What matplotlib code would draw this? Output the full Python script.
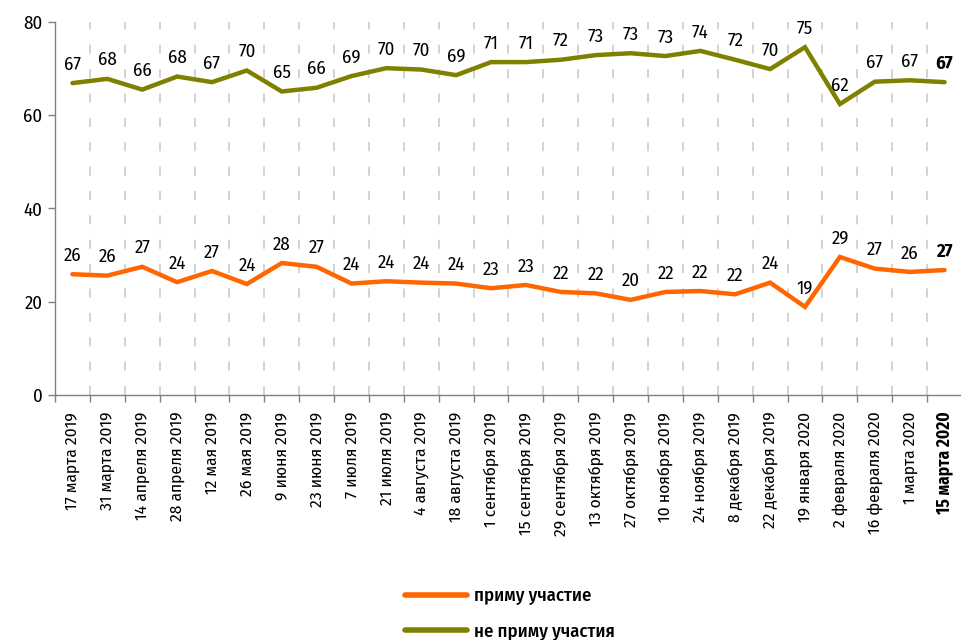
import matplotlib
matplotlib.use("Agg")
import matplotlib.pyplot as plt
from matplotlib.ticker import FixedLocator

dates = ["17 марта 2019", "31 марта 2019", "14 апреля 2019", "28 апреля 2019",
         "12 мая 2019", "26 мая 2019", "9 июня 2019", "23 июня 2019",
         "7 июля 2019", "21 июля 2019", "4 августа 2019", "18 августа 2019",
         "1 сентября 2019", "15 сентября 2019", "29 сентября 2019",
         "13 октября 2019", "27 октября 2019", "10 ноября 2019",
         "24 ноября 2019", "8 декабря 2019", "22 декабря 2019",
         "19 января 2020", "2 февраля 2020", "16 февраля 2020",
         "1 марта 2020", "15 марта 2020"]

take_part = [25.9, 25.6, 27.5, 24.2, 26.6, 23.8, 28.3, 27.5, 23.9, 24.4, 24.1, 23.9,
             22.9, 23.6, 22.1, 21.8, 20.4, 22.1, 22.3, 21.6, 24.1, 18.9, 29.6, 27.1,
             26.4, 26.8]
take_part_labels = [26, 26, 27, 24, 27, 24, 28, 27, 24, 24, 24, 24, 23, 23, 22, 22,
                    20, 22, 22, 22, 24, 19, 29, 27, 26, 27]

not_take_part = [66.9, 67.8, 65.5, 68.3, 67.1, 69.6, 65.1, 65.9, 68.4, 70.1, 69.8, 68.6,
                 71.4, 71.4, 71.9, 72.9, 73.3, 72.7, 73.8, 71.9, 69.9, 74.6, 62.4, 67.2,
                 67.5, 67.1]
not_take_part_labels = [67, 68, 66, 68, 67, 70, 65, 66, 69, 70, 70, 69, 71, 71, 72, 73,
                        73, 73, 74, 72, 70, 75, 62, 67, 67, 67]

series_names = ["приму участие", "не приму участия"]
y_ticks = [0, 20, 40, 60, 80]

plt.rcParams['font.family'] = ['Fira Sans Condensed', 'DejaVu Sans']

ORANGE = "#ff6600"
OLIVE = "#808000"

W, H = 962, 640
fig = plt.figure(figsize=(W / 100, H / 100), dpi=100)
ax = fig.add_axes([55 / W, 1 - 395 / H, (962 - 55) / W, (395 - 22) / H])

x = list(range(len(dates)))
l1, = ax.plot(x, take_part, color=ORANGE, lw=3.2, solid_joinstyle='miter',
              solid_capstyle='round', zorder=3)
l2, = ax.plot(x, not_take_part, color=OLIVE, lw=3.2, solid_joinstyle='miter',
              solid_capstyle='round', zorder=3)

n = len(dates)
for i in range(n):
    bold = 'bold' if i == n - 1 else 'normal'
    ax.annotate(str(take_part_labels[i]), (x[i], take_part[i]), xytext=(0, 7),
                textcoords='offset points', ha='center', va='bottom',
                fontsize=13.5, fontweight=bold, color='black')
    ax.annotate(str(not_take_part_labels[i]), (x[i], not_take_part[i]), xytext=(0, 7),
                textcoords='offset points', ha='center', va='bottom',
                fontsize=13.5, fontweight=bold, color='black')

ax.set_xlim(-0.5, n - 0.5)
ax.set_ylim(0, 80)
ax.set_yticks(y_ticks)
ax.set_yticklabels([str(v) for v in y_ticks], fontsize=13.5)

bounds = [i + 0.5 for i in range(-1, n)]
ax.xaxis.set_minor_locator(FixedLocator(bounds))
ax.set_xticks(x)
ax.set_xticklabels(dates, rotation=90, fontsize=12.5, ha='center', va='top')
ax.get_xticklabels()[-1].set_fontweight('bold')
ax.tick_params(axis='x', which='major', length=0, pad=12)
ax.tick_params(axis='x', which='minor', length=5, color='#808080', width=1)
ax.tick_params(axis='y', length=5, color='#808080', width=1, pad=4)

for b in bounds[1:]:
    ax.axvline(b, color='#cfcfcf', lw=1.3, dashes=(5, 8.5), zorder=1)

for s in ['top', 'right']:
    ax.spines[s].set_visible(False)
for s in ['left', 'bottom']:
    ax.spines[s].set_color('#808080')
    ax.spines[s].set_linewidth(1)

leg = fig.legend([l1, l2], series_names, loc='upper left',
                 bbox_to_anchor=(392 / W, 1 - 574 / H), frameon=False,
                 handlelength=3.3, labelspacing=0.95, handletextpad=0.35,
                 borderpad=0.2, prop={'weight': 'medium', 'size': 13.5})
for h in leg.get_lines():
    h.set_solid_capstyle('round')
    h.set_linewidth(4)

fig.savefig("out.png", dpi=100)
